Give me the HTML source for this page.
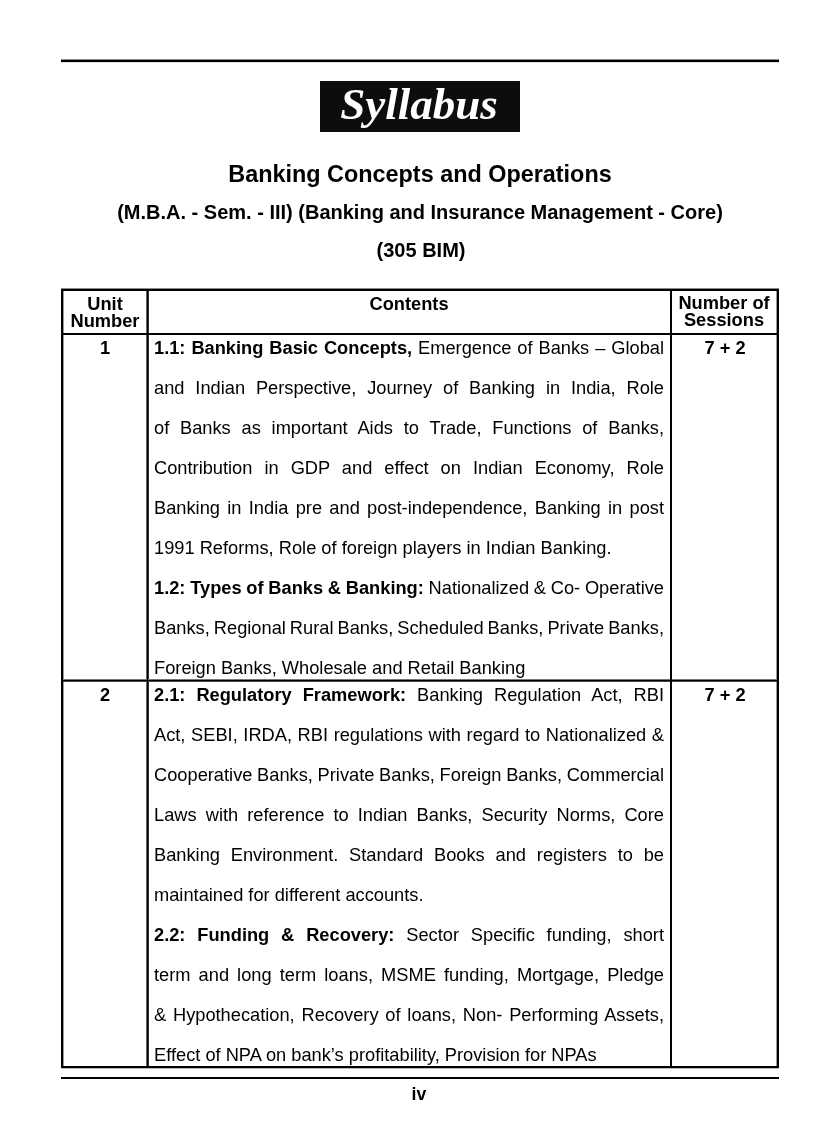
<!DOCTYPE html>
<html><head><meta charset="utf-8"><style>
html,body{margin:0;padding:0;background:#fff;}
body{width:840px;height:1140px;position:relative;overflow:hidden;color:#000;}
.t{position:absolute;white-space:nowrap;line-height:40px;z-index:3;will-change:transform;}
.r{position:absolute;}
b{font-weight:bold;}
</style></head><body>
<div class="r" style="left:61px;top:59px;width:718px;height:1px;background:#888;z-index:1"></div>
<div class="r" style="left:61px;top:60px;width:718px;height:2px;background:#000;z-index:2"></div>
<div class="r" style="left:61px;top:62px;width:718px;height:1px;background:#e0e0e0;z-index:1"></div>
<div class="r" style="left:320px;top:81px;width:200px;height:51px;background:#0d0d0d;z-index:1"></div>
<div class="t" style="top:84.00px;left:19.00px;width:800px;text-align:center;font:italic bold 45px 'Liberation Serif', serif;line-height:40px;color:#fff">Syllabus</div>
<div class="t" style="top:154.00px;left:20.20px;width:800px;text-align:center;font:bold 23.4px 'Liberation Sans', sans-serif;line-height:40px;">Banking Concepts and Operations</div>
<div class="t" style="top:191.80px;left:19.80px;width:800px;text-align:center;font:bold 20px 'Liberation Sans', sans-serif;line-height:40px;">(M.B.A. - Sem. - III) (Banking and Insurance Management - Core)</div>
<div class="t" style="top:229.50px;left:20.50px;width:800px;text-align:center;font:bold 20px 'Liberation Sans', sans-serif;line-height:40px;">(305 BIM)</div>
<div class="r" style="left:61px;top:288px;width:718px;height:1px;background:#888;z-index:1"></div>
<div class="r" style="left:61px;top:289px;width:718px;height:2px;background:#000;z-index:2"></div>
<div class="r" style="left:61px;top:289px;width:2px;height:779px;background:#000;z-index:2"></div>
<div class="r" style="left:63px;top:291px;width:1px;height:775px;background:#999;z-index:1"></div>
<div class="r" style="left:776px;top:291px;width:1px;height:775px;background:#999;z-index:1"></div>
<div class="r" style="left:777px;top:289px;width:2px;height:779px;background:#000;z-index:2"></div>
<div class="r" style="left:61px;top:1066px;width:718px;height:2px;background:#000;z-index:2"></div>
<div class="r" style="left:61px;top:1068px;width:718px;height:1px;background:#bbb;z-index:1"></div>
<div class="r" style="left:146px;top:291px;width:1px;height:775px;background:#666;z-index:1"></div>
<div class="r" style="left:147px;top:289px;width:1px;height:779px;background:#000;z-index:2"></div>
<div class="r" style="left:148px;top:289px;width:1px;height:779px;background:#333;z-index:1"></div>
<div class="r" style="left:670px;top:289px;width:2px;height:779px;background:#000;z-index:2"></div>
<div class="r" style="left:61px;top:333px;width:718px;height:2px;background:#000;z-index:2"></div>
<div class="r" style="left:61px;top:679px;width:718px;height:1px;background:#777;z-index:1"></div>
<div class="r" style="left:61px;top:680px;width:718px;height:1px;background:#000;z-index:2"></div>
<div class="r" style="left:61px;top:681px;width:718px;height:1px;background:#444;z-index:1"></div>
<div class="r" style="left:61px;top:1077px;width:718px;height:2px;background:#000;z-index:2"></div>
<div class="t" style="top:283.50px;left:-295.20px;width:800px;text-align:center;font:bold 18.25px 'Liberation Sans', sans-serif;line-height:40px;">Unit</div>
<div class="t" style="top:300.50px;left:-295.20px;width:800px;text-align:center;font:bold 18.25px 'Liberation Sans', sans-serif;line-height:40px;">Number</div>
<div class="t" style="top:283.50px;left:9.00px;width:800px;text-align:center;font:bold 18.25px 'Liberation Sans', sans-serif;line-height:40px;">Contents</div>
<div class="t" style="top:283.40px;left:324.40px;width:800px;text-align:center;font:bold 18.25px 'Liberation Sans', sans-serif;line-height:40px;">Number of</div>
<div class="t" style="top:300.40px;left:324.40px;width:800px;text-align:center;font:bold 18.25px 'Liberation Sans', sans-serif;line-height:40px;">Sessions</div>
<div class="t" style="top:327.80px;left:-295.10px;width:800px;text-align:center;font:bold 18.25px 'Liberation Sans', sans-serif;line-height:40px;">1</div>
<div class="t" style="top:674.60px;left:-295.10px;width:800px;text-align:center;font:bold 18.25px 'Liberation Sans', sans-serif;line-height:40px;">2</div>
<div class="t" style="top:327.80px;left:324.80px;width:800px;text-align:center;font:bold 18.25px 'Liberation Sans', sans-serif;line-height:40px;">7 + 2</div>
<div class="t" style="top:674.60px;left:324.80px;width:800px;text-align:center;font:bold 18.25px 'Liberation Sans', sans-serif;line-height:40px;">7 + 2</div>
<div class="t" style="top:327.80px;left:154.00px;width:510.00px;font:18.25px 'Liberation Sans', sans-serif;line-height:40px;white-space:normal;text-align:justify;text-align-last:justify;"><b>1.1: Banking Basic Concepts,</b> Emergence of Banks – Global</div>
<div class="t" style="top:367.80px;left:154.00px;width:510.00px;font:18.25px 'Liberation Sans', sans-serif;line-height:40px;white-space:normal;text-align:justify;text-align-last:justify;">and Indian Perspective, Journey of Banking in India, Role</div>
<div class="t" style="top:407.80px;left:154.00px;width:510.00px;font:18.25px 'Liberation Sans', sans-serif;line-height:40px;white-space:normal;text-align:justify;text-align-last:justify;">of Banks as important Aids to Trade, Functions of Banks,</div>
<div class="t" style="top:447.80px;left:154.00px;width:510.00px;font:18.25px 'Liberation Sans', sans-serif;line-height:40px;white-space:normal;text-align:justify;text-align-last:justify;">Contribution in GDP and effect on Indian Economy, Role</div>
<div class="t" style="top:487.80px;left:154.00px;width:510.00px;font:18.25px 'Liberation Sans', sans-serif;line-height:40px;white-space:normal;text-align:justify;text-align-last:justify;">Banking in India pre and post-independence, Banking in post</div>
<div class="t" style="top:527.80px;left:154.00px;width:560.00px;font:18.25px 'Liberation Sans', sans-serif;line-height:40px;">1991 Reforms, Role of foreign players in Indian Banking.</div>
<div class="t" style="top:567.80px;left:154.00px;width:510.00px;font:18.25px 'Liberation Sans', sans-serif;line-height:40px;white-space:normal;text-align:justify;text-align-last:justify;word-spacing:-1px"><b>1.2: Types of Banks &amp; Banking:</b> Nationalized &amp; Co- Operative</div>
<div class="t" style="top:607.80px;left:154.00px;width:510.00px;font:18.25px 'Liberation Sans', sans-serif;line-height:40px;white-space:normal;text-align:justify;text-align-last:justify;word-spacing:-1.4px">Banks, Regional Rural Banks, Scheduled Banks, Private Banks,</div>
<div class="t" style="top:647.80px;left:154.00px;width:560.00px;font:18.25px 'Liberation Sans', sans-serif;line-height:40px;">Foreign Banks, Wholesale and Retail Banking</div>
<div class="t" style="top:674.60px;left:154.00px;width:510.00px;font:18.25px 'Liberation Sans', sans-serif;line-height:40px;white-space:normal;text-align:justify;text-align-last:justify;"><b>2.1: Regulatory Framework:</b> Banking Regulation Act, RBI</div>
<div class="t" style="top:714.60px;left:154.00px;width:510.00px;font:18.25px 'Liberation Sans', sans-serif;line-height:40px;white-space:normal;text-align:justify;text-align-last:justify;">Act, SEBI, IRDA, RBI regulations with regard to Nationalized &amp;</div>
<div class="t" style="top:754.60px;left:154.00px;width:510.00px;font:18.25px 'Liberation Sans', sans-serif;line-height:40px;white-space:normal;text-align:justify;text-align-last:justify;word-spacing:-1px">Cooperative Banks, Private Banks, Foreign Banks, Commercial</div>
<div class="t" style="top:794.60px;left:154.00px;width:510.00px;font:18.25px 'Liberation Sans', sans-serif;line-height:40px;white-space:normal;text-align:justify;text-align-last:justify;">Laws with reference to Indian Banks, Security Norms, Core</div>
<div class="t" style="top:834.60px;left:154.00px;width:510.00px;font:18.25px 'Liberation Sans', sans-serif;line-height:40px;white-space:normal;text-align:justify;text-align-last:justify;">Banking Environment. Standard Books and registers to be</div>
<div class="t" style="top:874.60px;left:154.00px;width:560.00px;font:18.25px 'Liberation Sans', sans-serif;line-height:40px;">maintained for different accounts.</div>
<div class="t" style="top:914.60px;left:154.00px;width:510.00px;font:18.25px 'Liberation Sans', sans-serif;line-height:40px;white-space:normal;text-align:justify;text-align-last:justify;"><b>2.2: Funding &amp; Recovery:</b> Sector Specific funding, short</div>
<div class="t" style="top:954.60px;left:154.00px;width:510.00px;font:18.25px 'Liberation Sans', sans-serif;line-height:40px;white-space:normal;text-align:justify;text-align-last:justify;">term and long term loans, MSME funding, Mortgage, Pledge</div>
<div class="t" style="top:994.60px;left:154.00px;width:510.00px;font:18.25px 'Liberation Sans', sans-serif;line-height:40px;white-space:normal;text-align:justify;text-align-last:justify;">&amp; Hypothecation, Recovery of loans, Non- Performing Assets,</div>
<div class="t" style="top:1034.60px;left:154.00px;width:560.00px;font:18.25px 'Liberation Sans', sans-serif;line-height:40px;">Effect of NPA on bank’s profitability, Provision for NPAs</div>
<div class="t" style="top:1073.50px;left:18.70px;width:800px;text-align:center;font:bold 17.7px 'Liberation Sans', sans-serif;line-height:40px;">iv</div>
</body></html>
